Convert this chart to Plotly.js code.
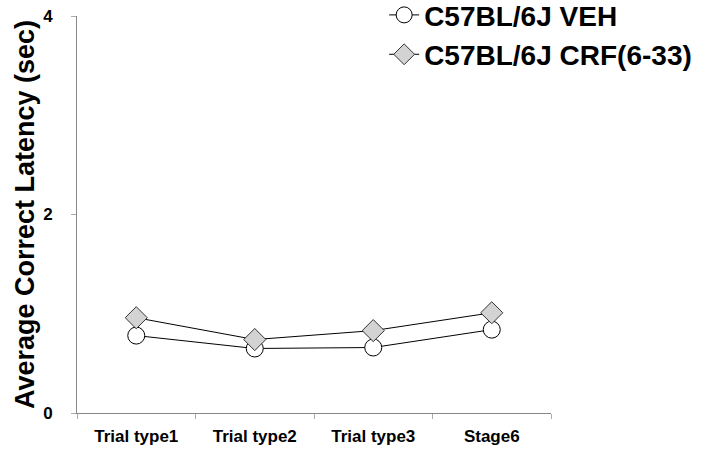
<!DOCTYPE html>
<html><head><meta charset="utf-8">
<script src="https://cdn.plot.ly/plotly-3.0.1.min.js"></script>
<style>html,body{margin:0;padding:0;background:#fff}</style>
</head><body>
<div id="chart" style="width:710px;height:453px"></div>
<script>
const categories = ["Trial type1", "Trial type2", "Trial type3", "Stage6"];
const vehValues = [0.78, 0.65, 0.66, 0.84];
const crfValues = [0.96, 0.74, 0.83, 1.01];
const seriesNames = ["C57BL/6J VEH", "C57BL/6J CRF(6-33)"];
const yTicks = [0, 2, 4];

const font = "Liberation Sans, Arial, sans-serif";
const traces = [
  {x: categories, y: vehValues, name: seriesNames[0], type: "scatter", mode: "lines+markers",
   legendgroup: "a",
   line: {color: "#000", width: 1},
   marker: {symbol: "circle", size: 17, color: "#fff", line: {color: "#000", width: 1}}},
  {x: categories, y: crfValues, name: seriesNames[1], type: "scatter", mode: "lines+markers",
   legendgroup: "b",
   line: {color: "#000", width: 1},
   marker: {symbol: "diamond", size: 17, color: "#d3d3d3", line: {color: "#333", width: 1}}}
];
const layout = {
  width: 710, height: 453,
  margin: {l: 77, r: 159, t: 16, b: 40, autoexpand: false},
  paper_bgcolor: "#fff", plot_bgcolor: "#fff",
  font: {family: font, color: "#000"},
  showlegend: true,
  legend: {x: 0.648, xanchor: "left", y: 1.065, yanchor: "top",
    font: {family: font, size: 28, weight: "bold", color: "#000"},
    traceorder: "grouped", tracegroupgap: 0, bgcolor: "rgba(0,0,0,0)", itemwidth: 30},
  xaxis: {type: "category", range: [-0.5, 3.5], showline: true, linecolor: "#888", linewidth: 1,
    ticks: "outside", tickson: "boundaries", ticklen: 5, tickcolor: "#aaa",
    showgrid: false, zeroline: false, ticklabelstandoff: 8,
    tickfont: {family: font, size: 17, weight: "bold", color: "#000"}},
  yaxis: {range: [0, 4], tickvals: yTicks, ticktext: yTicks.map(String),
    showline: true, linecolor: "#888", linewidth: 1,
    ticks: "outside", ticklen: 5, tickcolor: "#aaa", showgrid: false, zeroline: false,
    ticklabelstandoff: 15,
    tickfont: {family: font, size: 17, weight: "bold", color: "#000"},
    title: {text: "Average Correct Latency (sec)", standoff: 0,
      font: {family: font, size: 27, weight: "bold", color: "#000"}}}
};
Plotly.newPlot("chart", traces, layout, {displayModeBar: false});
</script>
</body></html>
